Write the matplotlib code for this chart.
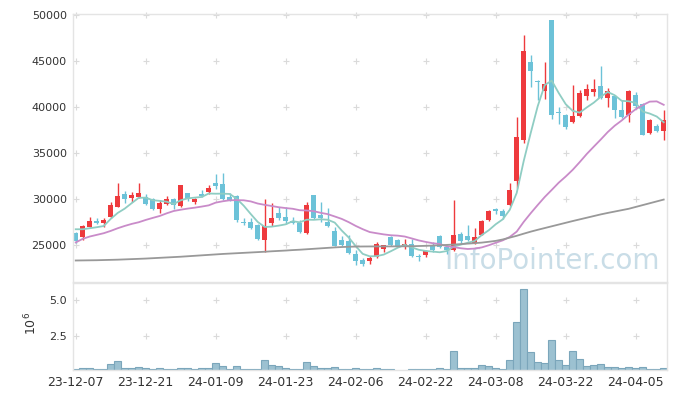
import numpy as np
import pandas as pd
import matplotlib
matplotlib.use('Agg')
import matplotlib.pyplot as plt

# trading days (KRX holidays removed)
holidays = ['2023-12-25', '2023-12-29', '2024-01-01', '2024-02-09',
            '2024-02-12', '2024-03-01', '2024-04-10']
dates = pd.bdate_range('2023-12-07', '2024-04-12', freq='C', holidays=holidays)

open_ = [26332, 25973, 27051, 27662, 27410, 28129, 29207, 30572, 30177, 30285,
         30213, 30033, 28955, 29458, 29997, 29314, 30644, 29674, 30572, 30751,
         31830, 31650, 30213, 30356, 27590, 27590, 27230, 25542, 27482, 28560,
         28057, 27698, 27482, 26332, 30464, 28309, 27590, 26584, 25614, 25434,
         24104, 23386, 23278, 23709, 24644, 25973, 25614, 24787, 25182, 23889,
         23925, 24895, 26045, 24823, 24500, 26260, 26081, 25254, 26170, 27740,
         28990, 28790, 29384, 32001, 36438, 44909, 42800, 41746, 49454, 39500,
         39201, 38365, 39092, 41164, 41636, 42254, 41018, 41164, 39710, 39201,
         41346, 40365, 37164, 38001, 37382]
high = [26440, 27230, 28129, 28021, 28021, 29674, 31830, 30931, 30752, 31830,
        30572, 30105, 29925, 30392, 30105, 31543, 30716, 30105, 31003, 31543,
        32728, 32872, 30716, 30464, 27949, 27949, 27338, 30002, 29566, 29207,
        29207, 28129, 27770, 29746, 30464, 29674, 29027, 27051, 26081, 26152,
        24536, 23638, 23817, 25362, 25075, 26045, 25686, 25686, 25686, 24104,
        24536, 25326, 26152, 25075, 29900, 26512, 27230, 26871, 27770, 28900,
        29099, 28955, 31820, 38983, 47818, 45636, 42909, 44909, 49454, 39999,
        39274, 42364, 41891, 42545, 43091, 44436, 42109, 41273, 40801, 41818,
        41637, 40437, 38728, 38183, 39710]
low = [25290, 25540, 26979, 27302, 26979, 27949, 29135, 29566, 29746, 30105,
       29386, 28847, 28560, 29386, 28919, 29207, 29818, 29458, 30213, 30572,
       31111, 29925, 29853, 27590, 27230, 26763, 25614, 24248, 27123, 27770,
       27302, 27302, 26404, 26260, 27841, 27590, 27051, 24895, 24967, 24104,
       22919, 22780, 23027, 23638, 24284, 24895, 24823, 24608, 23745, 23350,
       23745, 24248, 24716, 24104, 24380, 25254, 25434, 25182, 26100, 27700,
       28380, 27900, 29275, 31274, 36110, 42182, 40728, 40910, 38728, 38183,
       37637, 38256, 38983, 40728, 41164, 40910, 39999, 38838, 38838, 38365,
       39819, 37019, 37092, 37273, 36437]
close = [25506, 27123, 27662, 27482, 27770, 29386, 30356, 29997, 30464, 30644,
         29494, 28955, 29638, 29997, 29386, 31543, 29997, 30033, 30356, 31255,
         31434, 30033, 29853, 27770, 27482, 26943, 25722, 27123, 27950, 28021,
         27662, 27410, 26512, 29386, 27949, 27949, 27159, 24967, 25075, 24176,
         23278, 22950, 23638, 25182, 25003, 25075, 24895, 25182, 23817, 23709,
         24428, 24536, 24823, 24464, 26180, 25434, 25542, 25865, 27610, 28790,
         28700, 28200, 31020, 36801, 46109, 43891, 42727, 42473, 39201, 39420,
         37819, 39092, 41527, 41999, 41999, 41018, 41746, 39710, 38983, 41746,
         40183, 37019, 38620, 37382, 38620]
# volume in millions
volume = [0.14, 0.23, 0.23, 0.14, 0.14, 0.51, 0.69, 0.23, 0.23, 0.30,
          0.23, 0.14, 0.23, 0.14, 0.14, 0.23, 0.23, 0.14, 0.23, 0.23,
          0.58, 0.37, 0.14, 0.37, 0.14, 0.14, 0.14, 0.79, 0.44, 0.37,
          0.23, 0.14, 0.14, 0.65, 0.37, 0.23, 0.23, 0.30, 0.14, 0.14,
          0.23, 0.14, 0.14, 0.23, 0.14, 0.14, 0.05, 0.05, 0.14, 0.14,
          0.14, 0.14, 0.23, 0.14, 1.41, 0.23, 0.23, 0.23, 0.44, 0.37,
          0.23, 0.14, 0.79, 3.42, 5.72, 1.34, 0.65, 0.58, 2.22, 0.79,
          0.44, 1.41, 0.85, 0.35, 0.44, 0.51, 0.30, 0.30, 0.23, 0.30,
          0.23, 0.30, 0.14, 0.14, 0.23]
# moving average values before enough history is on the chart
ma5_lead = [26760, 26760, 26870, 26980]
ma20_lead = [25330, 25720, 25970, 26150, 26330, 26580, 26870, 27120, 27340, 27520,
             27770, 27990, 28200, 28490, 28740, 28880, 29000, 29100, 29220]
# long moving average (grey line)
ma_long = [23370, 23380, 23390, 23400, 23420, 23440, 23460, 23490, 23520, 23550,
           23580, 23620, 23660, 23700, 23740, 23780, 23830, 23880, 23930, 23980,
           24030, 24080, 24120, 24160, 24200, 24240, 24280, 24320, 24370, 24410,
           24450, 24500, 24540, 24590, 24640, 24690, 24740, 24790, 24830, 24860,
           24880, 24890, 24895, 24900, 24900, 24900, 24905, 24910, 24920, 24940,
           24960, 24990, 25020, 25060, 25100, 25150, 25200, 25250, 25310, 25400,
           25500, 25650, 25850, 26050, 26280, 26500, 26700, 26890, 27080, 27270,
           27460, 27650, 27830, 28010, 28190, 28370, 28530, 28680, 28830, 28980,
           29180, 29380, 29580, 29780, 29980]

df = pd.DataFrame({'open': open_, 'high': high, 'low': low, 'close': close,
                   'volume': np.array(volume) * 1e6, 'ma_long': ma_long}, index=dates)
df['ma5'] = df['close'].rolling(5).mean()
df.iloc[:4, df.columns.get_loc('ma5')] = ma5_lead
df['ma20'] = df['close'].rolling(20).mean()
df.iloc[:19, df.columns.get_loc('ma20')] = ma20_lead

x = np.arange(len(df))
up = df['close'] >= df['open']
RED = '#ee3a3d'
BLUE = '#6cc2d8'
col = np.where(up, RED, BLUE)

W, H = 677, 399
fig = plt.figure(figsize=(W / 100, H / 100), dpi=100)
ax1 = fig.add_axes([73 / W, 1 - 281.7 / H, 594 / W, 267.7 / H])
ax2 = fig.add_axes([73 / W, 1 - 370 / H, 594 / W, 87 / H])

# candles
ax1.vlines(x, df['low'], df['high'], colors=col, lw=1.0, zorder=2)
ax1.bar(x, (df['close'] - df['open']).abs(), bottom=df[['open', 'close']].min(axis=1),
        width=0.75, color=col, zorder=2)

# moving averages
ax1.plot(x, df['ma5'], color='#8fcdc3', lw=1.3, zorder=3)
ax1.plot(x, df['ma20'], color='#c98bc9', lw=1.3, zorder=3)
ax1.plot(x, df['ma_long'], color='#999999', lw=1.3, zorder=3)

# volume
ax2.bar(x, df['volume'], width=1.0, color='#9cc1d1', edgecolor='#7ba6bb', lw=0.8, zorder=2)

tick_pos = x[::10]
tick_lab = [d.strftime('%y-%m-%d') for d in dates[::10]]
price_ticks = [25000, 30000, 35000, 40000, 45000, 50000]
vol_ticks = [2.5e6, 5.0e6]

ax1.set_xlim(-0.39, 84.47)
ax2.set_xlim(-0.39, 84.47)
ax1.set_ylim(21070, 50110)
ax2.set_ylim(0.09e6, 6.17e6)

ax1.set_yticks(price_ticks)
ax1.set_yticklabels([str(v) for v in price_ticks])
ax1.set_xticks([])
ax2.set_yticks(vol_ticks)
ax2.set_yticklabels(['2.5', '5.0'])
ax2.set_xticks(tick_pos)
ax2.set_xticklabels(tick_lab)

for ax in (ax1, ax2):
    for s in ax.spines.values():
        s.set_color('#e4e4e4')
        s.set_linewidth(1.0)
    ax.tick_params(length=0, colors='#333333')
ax1.tick_params(axis='y', labelsize=8, pad=4.5)
ax2.tick_params(axis='y', labelsize=8, pad=4.5)
ax2.tick_params(axis='x', labelsize=9, pad=4)

# grid crosses
gx, gy = np.meshgrid(tick_pos, price_ticks)
ax1.plot(gx.ravel(), gy.ravel(), '+', color='#dadada', ms=5, mew=0.8, zorder=1, clip_on=False)
gx, gy = np.meshgrid(tick_pos, vol_ticks)
ax2.plot(gx.ravel(), gy.ravel(), '+', color='#dadada', ms=5, mew=0.8, zorder=1, clip_on=False)

ax1.text(0.988, 0.047, 'InfoPointer.com', transform=ax1.transAxes, ha='right',
         va='baseline', fontsize=20, color='#c9dde7', zorder=0.5)
fig.text(31 / W, 1 - 323.7 / H, r'$\mathregular{10^6}$', rotation=90,
         ha='center', va='center', fontsize=9, color='#333333')

fig.savefig('out.png', dpi=100)
